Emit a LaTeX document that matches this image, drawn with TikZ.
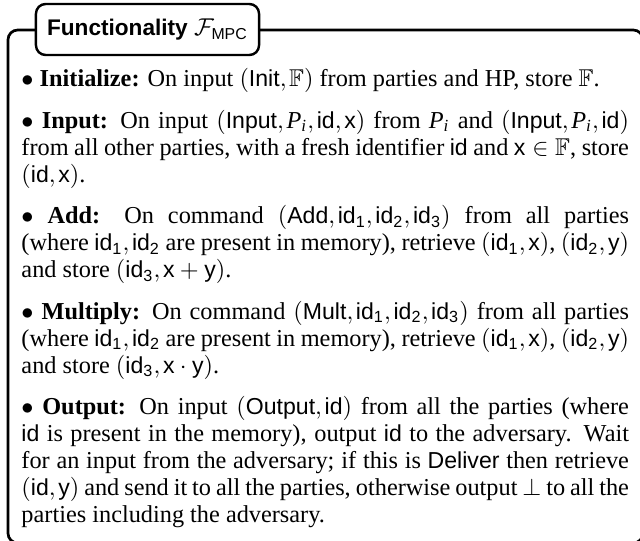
\documentclass[tikz,border=0pt]{standalone}
\usepackage{amsmath,amssymb}
\usepackage{fontspec}
\setmainfont{Liberation Serif}
\setsansfont[Scale=0.95]{Liberation Sans}
\usetikzlibrary{positioning}

% sans identifiers used in the commands
\newcommand{\sfid}{\mathsf{id}}
\newcommand{\sfx}{\mathsf{x}}
\newcommand{\sfy}{\mathsf{y}}
\newcommand{\idn}[1]{\mathsf{id}_{\mathsf{#1}}}
\newcommand{\party}{\mathit{P}_{\mathit{i}}}
\newcommand{\Fld}{\mathbb{F}}
\newcommand{\itm}[1]{$\bullet$ \textbf{#1:}}

\tikzset{
  framebox/.style={line width=1.1pt,rounded corners=4pt},
  titlebox/.style={draw,fill=white,line width=1pt,rounded corners=4pt,
    minimum width=91.8pt,minimum height=21pt,inner sep=0pt,
    font=\fontsize{9.8pt}{11pt}\selectfont\sffamily\bfseries},
  bodytext/.style={text width=250pt,align=justify,inner sep=0pt,
    anchor=north west,font=\fontsize{10pt}{11.1pt}\selectfont}
}

\begin{document}
\begin{tikzpicture}[x=0.4115pt,y=-0.4115pt]
  \useasboundingbox (0,0) rectangle (640,541);
  \clip (0,0) rectangle (640,541);
  % outer frame, right and bottom edges run off the page
  \draw[framebox] (8,30) rectangle (643,543);
  \node[titlebox] (title) at (147.5,29.5) {Functionality $\mathcal{F}_{\mathsf{MPC}}$};
  \node[bodytext] (body) at (21,68) {\parskip=6pt\thinmuskip=2mu
    \itm{Initialize} On input $(\mathsf{Init},\Fld)$ from parties and HP, store $\Fld$.

    \itm{Input} On input $(\mathsf{Input},\party,\sfid,\sfx)$ from $\party$ and $(\mathsf{Input},\party,\sfid)$\linebreak
    from all other parties, with a fresh identifier $\sfid$ and $\sfx\in\Fld$, store\linebreak
    $(\sfid,\sfx)$.

    \itm{Add} On command $(\mathsf{Add},\idn{1},\idn{2},\idn{3})$ from all parties\linebreak
    (where $\idn{1},\idn{2}$ are present in memory), retrieve $(\idn{1},\sfx)$, $(\idn{2},\sfy)$\linebreak
    and store $(\idn{3},\sfx+\sfy)$.

    \itm{Multiply} On command $(\mathsf{Mult},\idn{1},\idn{2},\idn{3})$ from all parties\linebreak
    (where $\idn{1},\idn{2}$ are present in memory), retrieve $(\idn{1},\sfx)$, $(\idn{2},\sfy)$\linebreak
    and store $(\idn{3},\sfx\cdot\sfy)$.

    \itm{Output} On input $(\mathsf{Output},\sfid)$ from all the parties (where\linebreak
    $\sfid$ is present in the memory), output $\sfid$ to the adversary. Wait\linebreak
    for an input from the adversary; if this is \textsf{Deliver} then retrieve\linebreak
    $(\sfid,\sfy)$ and send it to all the parties, otherwise output $\perp$ to all the\linebreak
    parties including the adversary.\par};
\end{tikzpicture}
\end{document}
